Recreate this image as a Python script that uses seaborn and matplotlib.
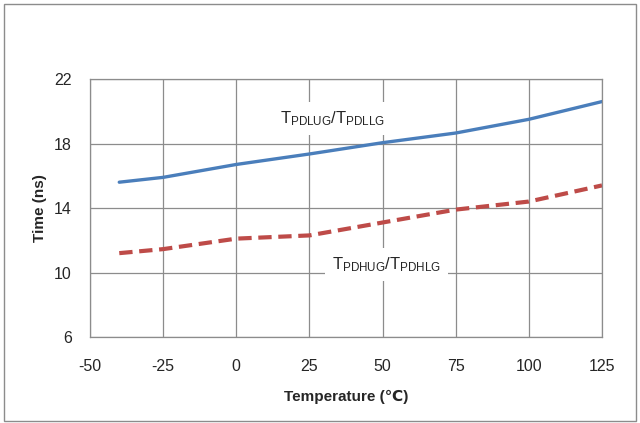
import matplotlib.pyplot as plt
import matplotlib.patches as mpatches
import numpy as np
import pandas as pd
import seaborn as sns

# values
temperature = [-40, -25, 0, 25, 50, 75, 100, 125]
t_pdl = [15.6, 15.9, 16.7, 17.35, 18.05, 18.65, 19.5, 20.6]
t_pdh = [11.2, 11.45, 12.1, 12.3, 13.1, 13.9, 14.4, 15.4]
x_ticks = [-50, -25, 0, 25, 50, 75, 100, 125]
y_ticks = [6, 10, 14, 18, 22]

sns.set_style("white")
plt.rcParams["font.family"] = ["Liberation Sans", "DejaVu Sans"]
plt.rcParams["mathtext.default"] = "regular"
plt.rcParams["axes.unicode_minus"] = False

df = pd.DataFrame({"Temperature": temperature, "PDL": t_pdl, "PDH": t_pdh})

fig = plt.figure(figsize=(6.4, 4.23), dpi=100)
ax = fig.add_axes([90 / 640, 86 / 423, 512 / 640, 258 / 423])

grid_c = "#8c8c8c"
sns.lineplot(data=df, x="Temperature", y="PDL", color="#4a7ebb", linewidth=2.4, ax=ax)
sns.lineplot(data=df, x="Temperature", y="PDH", color="#be4b48", linewidth=3.0,
             ax=ax, linestyle=(0, (3.2, 1.6)))

ax.set_xlim(-50, 125)
ax.set_ylim(6, 22)
ax.set_xticks(x_ticks)
ax.set_yticks(y_ticks)
ax.grid(True, color=grid_c, linewidth=0.9)
ax.set_axisbelow(True)
for s in ax.spines.values():
    s.set_color(grid_c)
    s.set_linewidth(0.9)
ax.tick_params(length=0, labelsize=11.5)
ax.tick_params(axis="x", pad=16)
ax.tick_params(axis="y", pad=13)

ax.set_xlabel("Temperature (℃)", fontsize=11, fontweight="bold", labelpad=11)
ax.set_ylabel("Time (ns)", fontsize=11, fontweight="bold", labelpad=5)

box = dict(facecolor="white", edgecolor="none", pad=5)
ax.text(33, 19.55, r"T$_{PDLUG}$/T$_{PDLLG}$", fontsize=12, ha="center",
        va="center", bbox=box, zorder=3)
ax.text(51.5, 10.5, r"T$_{PDHUG}$/T$_{PDHLG}$", fontsize=12, ha="center",
        va="center", bbox=box, zorder=3)

# outer chart border
fig.patches.append(mpatches.Rectangle((4 / 640, 2 / 423), 632 / 640, 417 / 423,
                                      transform=fig.transFigure, fill=False,
                                      edgecolor="#8c8c8c", linewidth=1.0))

fig.savefig("out.png", dpi=100)
